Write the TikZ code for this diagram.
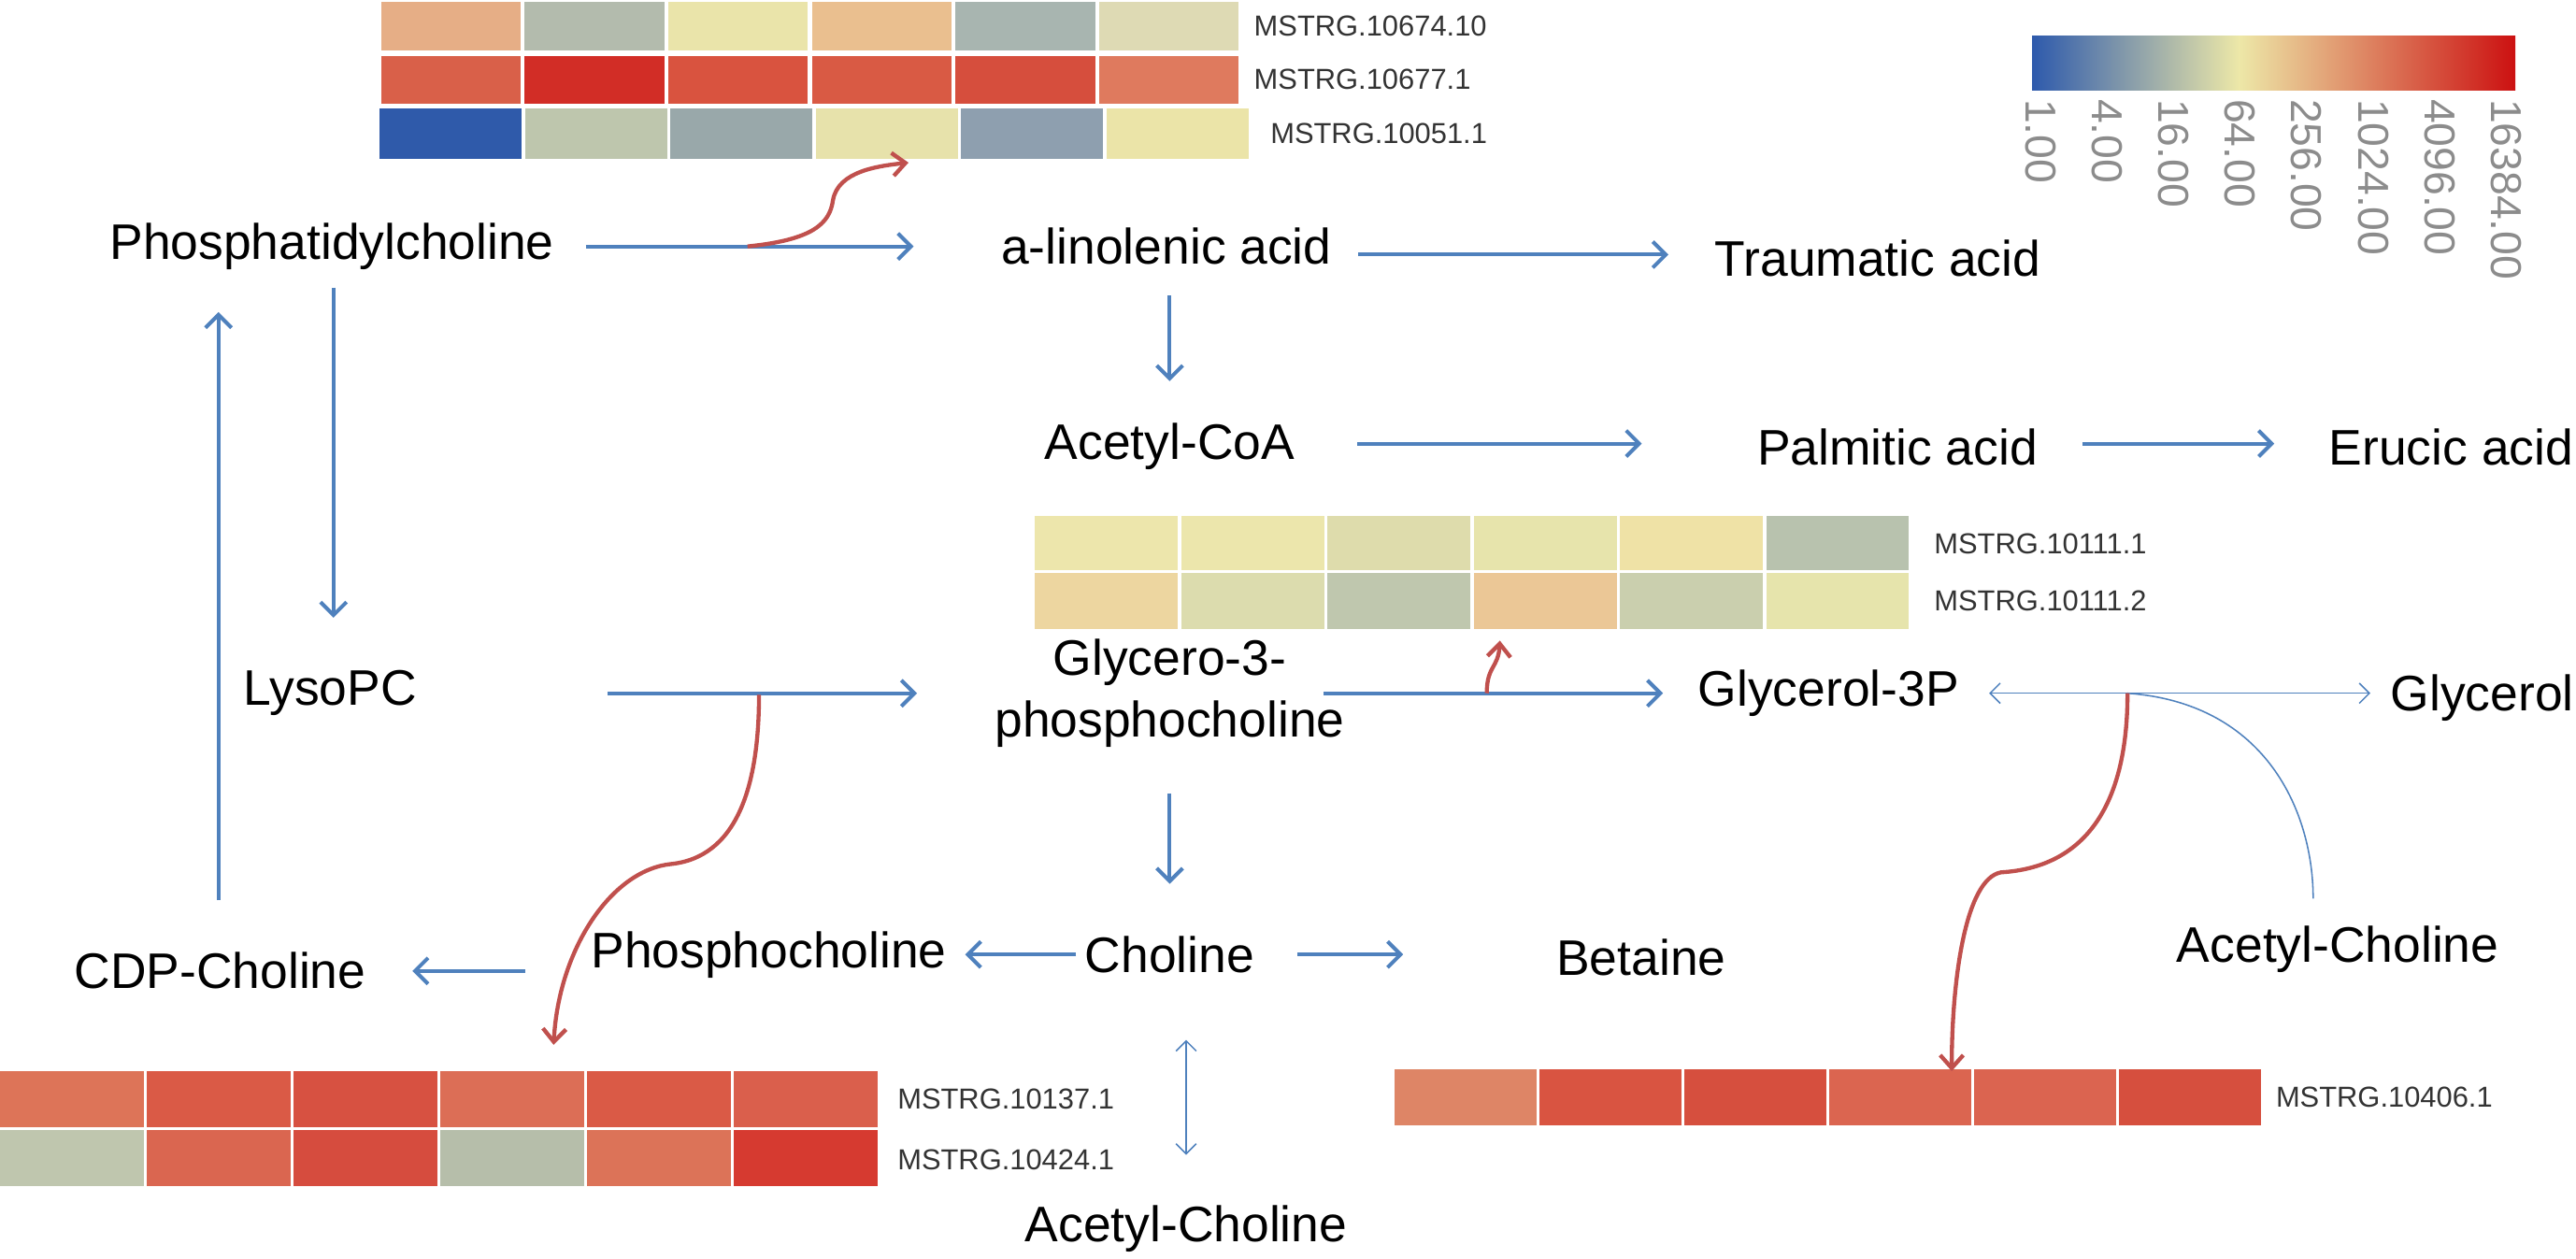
\documentclass[tikz,border=0pt]{standalone}
\usepackage{fontspec}
\setmainfont{Liberation Sans}
\usetikzlibrary{arrows.meta,calc}
\definecolor{arrblue}{HTML}{4F81BD}
\definecolor{arrred}{HTML}{C0504D}
\definecolor{lblgray}{HTML}{333333}
\definecolor{cbgray}{HTML}{8C8C8C}
\definecolor{cbBlue}{HTML}{2E5AAC}
\definecolor{cbYellow}{HTML}{EDE8A8}
\definecolor{cbRed}{HTML}{CC1111}
\newcommand\hmrow[6]{%
  \foreach \c [count=\i from 0] in {#6} {%
    \definecolor{hmc}{HTML}{\c}%
    \fill[hmc] ({#1+\i*#3},#2) rectangle ++(#4,#5);
  }%
}
\begin{document}
\begin{tikzpicture}[x=0.02cm,y=-0.02cm,
  met/.style={font=\fontsize{17.3}{21.6}\selectfont, inner sep=0pt, text=black},
  lbl/.style={font=\fontsize{10}{12}\selectfont, inner sep=0pt, anchor=west, text=lblgray},
  cblbl/.style={font=\fontsize{15}{17}\selectfont, inner sep=0pt, anchor=west, rotate=-90, text=cbgray},
  barrow/.style={draw=arrblue, line width=1.3pt, -{Straight Barb[length=4.5pt,width=9pt]}},
  thinboth/.style={draw=arrblue, line width=0.5pt, {Straight Barb[length=3.5pt,width=7pt]}-{Straight Barb[length=3.5pt,width=7pt]}},
  thinline/.style={draw=arrblue, line width=0.5pt},
  rarrow/.style={draw=arrred, line width=1.4pt, -{Straight Barb[length=4.5pt,width=8pt]}}]
\useasboundingbox (0,0) rectangle (1568,766);

% ---------- colour bar ----------
\shade[left color=cbBlue, right color=cbYellow] (1237,22) rectangle (1363,55);
\shade[left color=cbYellow, right color=cbRed] (1362.5,22) rectangle (1531,55);
\foreach \v [count=\i from 0] in {1.00,4.00,16.00,64.00,256.00,1024.00,4096.00,16384.00}
  \node[cblbl] (cb\i) at ({1242+40.5*\i},60) {\v};

% ---------- heat maps ----------
\hmrow{232}{1}{87.4}{85}{30}{E6AE86,B3BBAD,EAE4AA,EABF8F,A8B5B0,DEDAB4}
\hmrow{232}{34}{87.4}{85}{29}{D96049,D22D26,D9533F,D95A44,D64E3D,DF7A5E}
\hmrow{231}{66}{88.5}{86.5}{31}{2F5AAA,BEC6AD,99A8AA,E7E2AB,8E9FAF,EBE4A8}
\node[lbl] (l1) at (763,16) {MSTRG.10674.10};
\node[lbl] (l2) at (763,48.5) {MSTRG.10677.1};
\node[lbl] (l3) at (773,81.5) {MSTRG.10051.1};

\hmrow{630}{314}{89}{87}{33}{EDE6AC,ECE6AC,DEDCAC,E7E4AC,EFE2A6,B8C2AE}
\hmrow{630}{349}{89}{87}{34}{EDD6A0,DCDCAE,BFC7AE,EBC796,CACFAE,E6E4AC}
\node[lbl] (l4) at (1177,331) {MSTRG.10111.1};
\node[lbl] (l5) at (1177,366) {MSTRG.10111.2};

\hmrow{0}{652}{89.3}{87.5}{34}{DD7458,DA5A46,D75141,DC6E56,DA5A46,DA5F4C}
\hmrow{0}{688}{89.3}{87.5}{34}{BFC6AE,DA6650,D64C3E,B6BEAA,DC7358,D63A30}
\node[lbl] (l6) at (546,669) {MSTRG.10137.1};
\node[lbl] (l7) at (546,706) {MSTRG.10424.1};

\hmrow{849}{651}{88.2}{86.5}{34}{DE8566,D95441,D64F3E,DB6550,DB6450,D64F3E}
\node[lbl] (l8) at (1385,668) {MSTRG.10406.1};

% ---------- metabolites ----------
\node[met] (pc)   at (202,150) {Phosphatidylcholine};
\node[met] (alin) at (710,150) {a-linolenic acid};
\node[met] (trau) at (1143,157) {Traumatic acid};
\node[met] (acoa) at (712,272) {Acetyl-CoA};
\node[met] (palm) at (1155,272) {Palmitic acid};
\node[met] (eruc) at (1492,272) {Erucic acid};
\node[met] (lyso) at (201,422) {LysoPC};
\node[met, align=center] (g3pc) at (712,422) {Glycero-3-\\phosphocholine};
\node[met] (g3p)  at (1113,422) {Glycerol-3P};
\node[met, anchor=east] (glyc) at (1567,425) {Glycerol};
\node[met] (cdp)  at (134,591) {CDP-Choline};
\node[met] (phos) at (468,581) {Phosphocholine};
\node[met] (chol) at (712,581) {Choline};
\node[met] (bet)  at (999,583) {Betaine};
\node[met] (acr)  at (1423,578) {Acetyl-Choline};
\node[met] (acb)  at (722,748) {Acetyl-Choline};

% ---------- blue reaction arrows ----------
\draw[barrow] ($(pc.east)+(19,0)$) -- ($(alin.west)+(-53,0)$);
\draw[barrow] ($(alin.east)+(16,5)$) -- ($(trau.west)+(-28,-2)$);
\draw[barrow] ($(alin)+(2,30)$) -- ($(acoa)+(0,-40)$);
\draw[barrow] ($(acoa.east)+(38,-2)$) -- ($(palm.west)+(-70,-2)$);
\draw[barrow] ($(palm.east)+(27,-2)$) -- ($(eruc.west)+(-33,-2)$);
\draw[barrow] ($(pc)+(1,25)$) -- ($(lyso)+(2,-46)$);
\draw[barrow] ($(cdp)+(-1,-43)$) -- ($(pc)+(-69,40)$);
\draw[barrow] ($(lyso.east)+(116,0)$) -- ($(g3pc.west)+(-47,0)$);
\draw[barrow] ($(g3pc.east)+(-13,0)$) -- ($(g3p.west)+(-21,0)$);
\draw[barrow] ($(g3pc)+(0,61)$) -- ($(chol)+(0,-43)$);
\draw[barrow] ($(chol.west)+(-5,0)$) -- ($(phos.east)+(11,0)$);
\draw[barrow] ($(chol.east)+(26,0)$) -- ($(bet.west)+(-93,-2)$);
\draw[barrow] ($(phos.west)+(-40,10)$) -- ($(cdp.east)+(28,0)$);
\draw[thinboth] ($(g3p.east)+(18,0)$) -- ($(glyc.west)+(-12,-3)$);
\draw[thinboth] ($(chol)+(10,52)$) -- ($(acb)+(0,-45)$);

% junction points on the reaction arrows
\coordinate (j1) at (455,150);
\coordinate (j2) at (462,423);
\coordinate (j3) at (905,422);
\coordinate (j4) at (1295,422);
\coordinate (e1) at (553,99);
\coordinate (e2) at (337,636);
\coordinate (e3) at (913,390);
\coordinate (e4) at (1188,652);
\coordinate (e5) at ($(acr)+(-15,-31)$);

\draw[thinline] (j4) .. controls (1380,428) and (1408,495) .. (e5);

% ---------- red enzyme arrows ----------
\draw[rarrow] (j1) .. controls (495,146) and (505,136) .. (507,122)
              .. controls (510,104) and (535,101) .. (e1);
\draw[rarrow] (j2) .. controls (462,480) and (448,522) .. (408,526)
              .. controls (372,530) and (340,578) .. (e2);
\draw[rarrow] (j3) .. controls (905,405) and (912,407) .. (e3);
\draw[rarrow] (j4) .. controls (1295,492) and (1268,528) .. (1218,531)
              .. controls (1196,535) and (1188,598) .. (e4);
\end{tikzpicture}
\end{document}
